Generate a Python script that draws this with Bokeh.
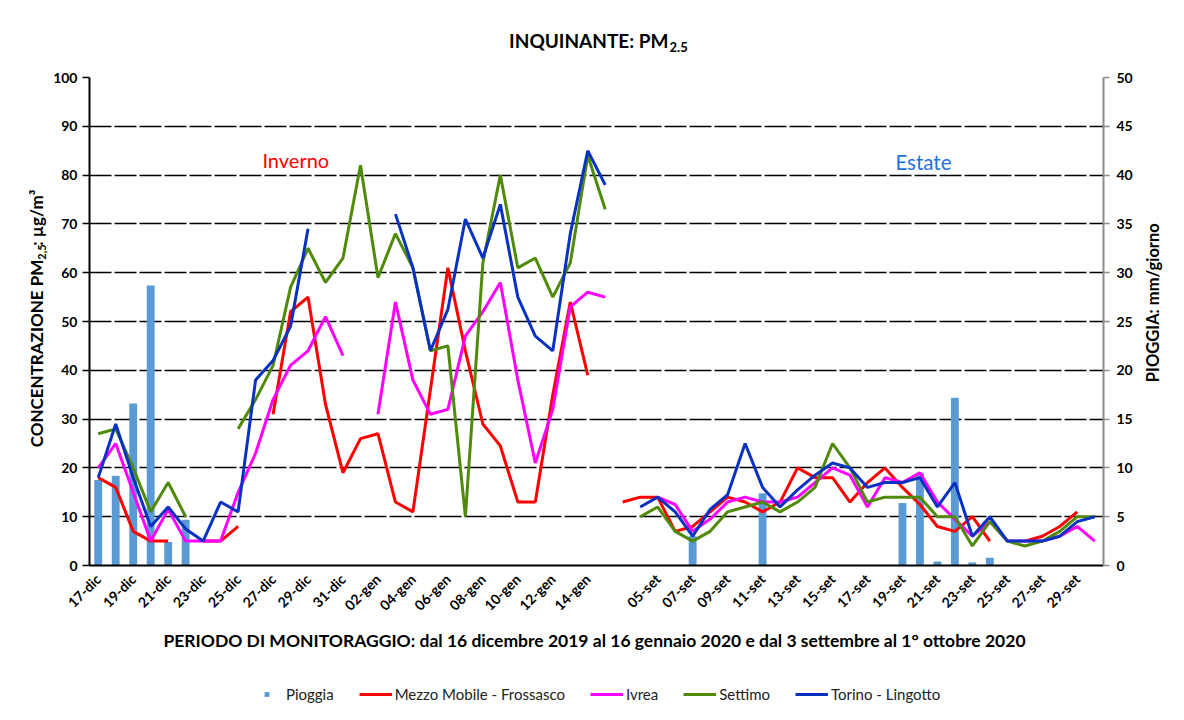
import numpy as np
from math import pi
from bokeh.plotting import figure
from bokeh.layouts import column, row
from bokeh.models import (Range1d, LinearAxis, FixedTicker, Label, Legend, LegendItem)
from bokeh.embed import file_html
from bokeh.resources import INLINE

dates = ["17-dic", "18-dic", "19-dic", "20-dic", "21-dic", "22-dic", "23-dic", "24-dic", "25-dic", "26-dic",
         "27-dic", "28-dic", "29-dic", "30-dic", "31-dic", "01-gen", "02-gen", "03-gen", "04-gen", "05-gen",
         "06-gen", "07-gen", "08-gen", "09-gen", "10-gen", "11-gen", "12-gen", "13-gen", "14-gen", "15-gen",
         "03-set", "04-set", "05-set", "06-set", "07-set", "08-set", "09-set", "10-set", "11-set", "12-set",
         "13-set", "14-set", "15-set", "16-set", "17-set", "18-set", "19-set", "20-set", "21-set", "22-set",
         "23-set", "24-set", "25-set", "26-set", "27-set", "28-set", "29-set", "30-set"]

# Pioggia (mm/giorno, right axis)
pioggia = [8.75, 9.2, 16.6, 28.7, 2.4, 4.7, 0, 0, 0, 0,
           0, 0, 0, 0, 0, 0, 0, 0, 0, 0,
           0, 0, 0, 0, 0, 0, 0, 0, 0, 0,
           0, 0, 0, 0, 3.0, 0, 0, 0, 7.4, 0,
           0, 0, 0, 0, 0, 0, 6.4, 9.5, 0.4, 17.2,
           0.3, 0.8, 0, 0, 0, 0, 0, 0]

# PM2.5 (µg/m³, left axis); None = missing value
frossasco = [18, 16, 7, 5, 5, None, 5, 5, 8, None,
             31, 52, 55, 33, 19, 26, 27, 13, 11, 36,
             61, 44, 29, 24.5, 13, 13, 35, 54, 39, None,
             13, 14, 14, 7, 8, 11, 14, 13, 11, 13,
             20, 18, 18, 13, 17, 20, 16, 12.5, 8, 7,
             10, 5, None, 5, 6, 8, 11, None]

ivrea = [20, 25, 15, 5, 11.5, 5, 5, 5, 15, 23,
         34, 41, 44, 51, 43, None, 31, 54, 38, 31,
         32, 47, 52, 58, 38, 21, 32, 53, 56, 55,
         None, None, 14, 12.5, 7, 9.5, 13, 14, 13, 13,
         14, 17, 20, 18.5, 12, 18, 17, 19, 13, 9.5,
         6, 9, 5, 5, 5, 6, 8, 5]

settimo = [27, 28, 20, 11, 17, 10, None, None, 28, 34,
           41, 57, 65, 58, 63, 82, 59, 68, 61, 44,
           45, 10, 62, 80, 61, 63, 55, 62, 84, 73,
           None, 10, 12, 7, 5, 7, 11, 12, 13, 11,
           13, 16, 25, 20, 13, 14, 14, 14, 10, 10,
           4, 9, 5, 4, 5, 7, 10, 10]

torino = [18, 29, 18, 8, 12, 7.5, 5, 13, 11, 38,
          42, 49, 69, None, None, None, None, 72, 61, 44,
          52.5, 71, 63, 74, 55, 47, 44, 68, 85, 78,
          None, 12, 14, 11, 6, 11.5, 14.5, 25, 16, 12,
          15.5, 18.5, 21, 20, 16, 17, 17, 18, 12, 17,
          6, 10, 5, 5, 5, 6, 9, 10]

RAIN_COLOR = "#5B9BD5"
series = [("Mezzo Mobile - Frossasco", frossasco, "#FF0000"),
          ("Ivrea", ivrea, "#FF00FF"),
          ("Settimo", settimo, "#4F8A0B"),
          ("Torino - Lingotto", torino, "#0A32C2")]

FONT = "Lato"
x = np.arange(len(dates))

# ---------------- layout geometry (page pixels) ----------------
TOTAL_W, TOTAL_H = 1168, 704
TOP_H = 65            # strip above plot (title)
LEFT_W = 50           # strip left (y title)
RIGHT_W = 25          # strip right (rain title)
MAIN_W = TOTAL_W - LEFT_W - RIGHT_W
MAIN_TOP = 12         # main plot's own top border (room for top tick labels)
MAIN_H = MAIN_TOP + 490 + 55
BOTTOM_H = TOTAL_H - TOP_H - MAIN_H


def strip(x0, y0, w, h):
    f = figure(width=w, height=h, x_range=Range1d(x0, x0 + w), y_range=Range1d(y0 + h, y0),
               output_backend="svg", toolbar_location=None, title=None,
               x_axis_location=None, y_axis_location=None,
               min_border_left=0, min_border_right=0, min_border_top=0, min_border_bottom=0)
    f.outline_line_color = None
    f.background_fill_color = "white"
    f.border_fill_color = "white"
    for g in f.grid:
        g.visible = False
    return f


def lab(f, X, Y, text, size, bold=True, color="black", align="center", baseline="middle", angle=0):
    f.add_layout(Label(x=X, y=Y, text=text, text_font=FONT, text_font_size=size,
                       text_font_style="bold" if bold else "normal", text_color=color,
                       text_align=align, text_baseline=baseline, angle=angle))


# ---------------- main plot ----------------
p = figure(width=MAIN_W, height=MAIN_H, output_backend="svg", toolbar_location=None, title=None,
           x_range=Range1d(-0.5, len(dates) - 0.5), y_range=Range1d(0, 100),
           min_border_left=87 - LEFT_W, min_border_right=40, min_border_top=MAIN_TOP,
           min_border_bottom=55)
p.extra_y_ranges = {"rain": Range1d(0, 50)}
p.outline_line_color = None
p.background_fill_color = "white"
p.border_fill_color = "white"

xa = p.xaxis[0]
xa.ticker = FixedTicker(ticks=[i for i in range(0, len(dates), 2) if dates[i] != "03-set"])
xa.major_label_overrides = {i: d for i, d in enumerate(dates)}
xa.major_label_orientation = pi / 4
xa.major_label_text_font = FONT
xa.major_label_text_font_style = "bold"
xa.major_label_text_font_size = "14px"
xa.major_label_text_color = "black"
xa.major_label_standoff = 5
xa.major_tick_line_color = None
xa.minor_tick_line_color = None
xa.axis_line_color = "black"
xa.axis_line_width = 2

ya = p.yaxis[0]
ya.ticker = FixedTicker(ticks=list(range(0, 101, 10)))
ya.major_label_text_font = FONT
ya.major_label_text_font_style = "bold"
ya.major_label_text_font_size = "14px"
ya.major_label_text_color = "black"
ya.axis_line_color = "black"
ya.axis_line_width = 2
ya.major_tick_line_color = "black"
ya.major_tick_line_width = 1.5
ya.major_tick_out = 7
ya.major_tick_in = 0
ya.minor_tick_line_color = None
ya.major_label_standoff = 5

ra = LinearAxis(y_range_name="rain", ticker=FixedTicker(ticks=list(range(0, 51, 5))))
ra.major_label_text_font = FONT
ra.major_label_text_font_style = "bold"
ra.major_label_text_font_size = "14px"
ra.major_label_text_color = "black"
ra.axis_line_color = "#8C8C8C"
ra.axis_line_width = 2
ra.major_tick_line_color = "#8C8C8C"
ra.major_tick_line_width = 1.5
ra.major_tick_out = 6
ra.major_tick_in = 0
ra.minor_tick_line_color = None
ra.major_label_standoff = 7
p.add_layout(ra, "right")

p.xgrid.visible = False
p.ygrid.grid_line_color = "black"
p.ygrid.grid_line_width = 1.4
p.ygrid.grid_line_dash = "22 3"

p.vbar(x=x, top=pioggia, width=0.45, y_range_name="rain", fill_color=RAIN_COLOR, line_color=None)

for name, vals, col in series:
    p.line(x=x, y=np.array(vals, dtype=float), line_color=col, line_width=3)

p.add_layout(Label(x=11.3, y=83, text="Inverno", text_font=FONT, text_font_size="20px",
                   text_color="#FF0000", text_align="center", text_baseline="middle"))
p.add_layout(Label(x=47.2, y=82.6, text="Estate", text_font=FONT, text_font_size="20.5px",
                   text_color="#1F6FE5", text_align="center", text_baseline="middle"))

# ---------------- title strip ----------------
top = strip(0, 0, TOTAL_W, TOP_H)
lab(top, 668, 40, "INQUINANTE: PM", "19px", align="right")
lab(top, 669, 46, "2.5", "13px", align="left")

# ---------------- left strip: y title ----------------
left = strip(0, TOP_H, LEFT_W, MAIN_H)
yj = 273
lab(left, 36, yj, "CONCENTRAZIONE PM", "17px", align="right", angle=pi / 2)
lab(left, 41, yj, "2,5", "11px", align="left", angle=pi / 2)
lab(left, 36, yj - 16, ": µg/m³", "17px", align="left", angle=pi / 2)

# ---------------- right strip: rain title ----------------
right = strip(LEFT_W + MAIN_W, TOP_H, RIGHT_W, MAIN_H)
lab(right, 1152, 322, "PIOGGIA: mm/giorno", "16.5px", angle=pi / 2)

# ---------------- bottom strip: x title + legend ----------------
bottom = strip(0, TOP_H + MAIN_H, TOTAL_W, BOTTOM_H)
lab(bottom, 594, 640,
    "PERIODO DI MONITORAGGIO: dal 16 dicembre 2019 al 16 gennaio 2020 e dal 3 settembre al 1° ottobre 2020",
    "17.5px")

# legend swatches (no visible marks: NaN data)
proxy_rain = bottom.scatter(x=[np.nan], y=[np.nan], marker="square", size=6,
                            fill_color=RAIN_COLOR, line_color=None)
items = [LegendItem(label="Pioggia", renderers=[proxy_rain])]
for name, _, col in series:
    r = bottom.line(x=[np.nan], y=[np.nan], line_color=col, line_width=3)
    items.append(LegendItem(label=name, renderers=[r]))
legend = Legend(items=items, orientation="horizontal", location=(250, 1),
                label_text_font=FONT, label_text_font_size="15px", label_text_color="#222222",
                glyph_width=33, glyph_height=12, label_standoff=3, spacing=25,
                padding=0, margin=0, border_line_color=None, background_fill_alpha=0)
bottom.add_layout(legend, "center")

layout = column(top, row(left, p, right), bottom)
open("out.html", "w").write(file_html(layout, INLINE))
